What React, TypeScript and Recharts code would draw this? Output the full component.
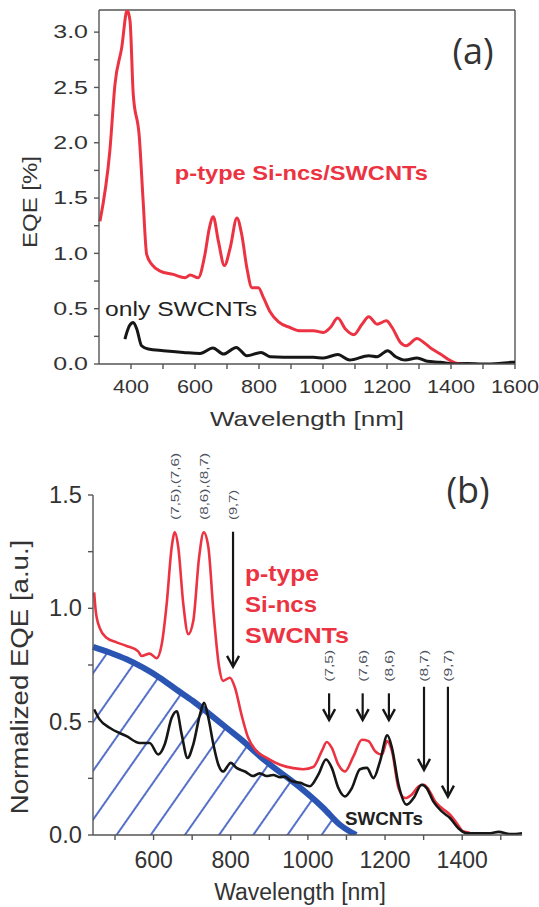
import { Area, ComposedChart, Line, LineChart, ReferenceDot, ReferenceLine, XAxis, YAxis } from "recharts";

const RED = "#ec3342";
const BLACK = "#161616";
const BLUE = "#2b55b3";
const AXIS = "#555555";
const TEXT = "#333333";
const FONT = '"Liberation Sans", Arial, sans-serif';

// panel (a): absolute EQE
const aRedNm = [303, 334, 350, 371, 388, 397, 407, 426, 438, 449, 465, 491, 532, 569, 585, 610, 631, 645, 657, 673, 692, 710, 731, 746, 762, 778, 798, 814, 835, 861, 897, 929, 970, 1002, 1023, 1046, 1070, 1096, 1122, 1143, 1169, 1198, 1216, 1242, 1260, 1294, 1315, 1341, 1367, 1398, 1420, 1445];
const aRedEqe = [1.29, 1.93, 2.53, 2.86, 3.2, 3.1, 2.44, 2.05, 1.47, 0.99, 0.9, 0.84, 0.81, 0.78, 0.805, 0.78, 0.99, 1.23, 1.33, 1.11, 0.89, 1.05, 1.32, 1.17, 0.87, 0.69, 0.69, 0.6, 0.47, 0.38, 0.33, 0.3, 0.3, 0.285, 0.33, 0.415, 0.316, 0.265, 0.36, 0.427, 0.36, 0.39, 0.33, 0.195, 0.165, 0.23, 0.195, 0.135, 0.09, 0.03, 0.005, 0];
const aBlackNm = [381, 395, 407, 418, 433, 454, 501, 564, 616, 656, 689, 729, 762, 806, 835, 918, 970, 1002, 1046, 1083, 1143, 1169, 1202, 1227, 1257, 1294, 1326, 1367, 1409, 1450, 1500, 1550, 1590, 1600];
const aBlackEqe = [0.225, 0.345, 0.375, 0.316, 0.165, 0.135, 0.12, 0.105, 0.096, 0.145, 0.09, 0.15, 0.075, 0.105, 0.066, 0.06, 0.06, 0.055, 0.085, 0.036, 0.075, 0.066, 0.12, 0.066, 0.036, 0.055, 0.024, 0.015, 0, 0.005, 0, 0.005, 0.015, 0.015];
const aXMajor = [400, 600, 800, 1000, 1200, 1400, 1600];
const aXMinor = [500, 700, 900, 1100, 1300, 1500];
const aYMajor = [0, 0.5, 1, 1.5, 2, 2.5, 3];
const aYMinor = [0.25, 0.75, 1.25, 1.75, 2.25, 2.75];

// panel (b): normalized EQE
const bRedNm = [446, 450, 460, 478, 504, 530, 560, 569, 590, 608, 621, 634, 647, 655, 664, 677, 690, 703, 718, 730, 742, 755, 770, 780, 798, 811, 828, 845, 867, 893, 928, 962, 988, 1014, 1036, 1049, 1062, 1079, 1096, 1118, 1140, 1157, 1174, 1192, 1205, 1218, 1235, 1252, 1269, 1287, 1300, 1313, 1330, 1347, 1369, 1386, 1403, 1420];
const bRedEqe = [1.07, 0.99, 0.915, 0.87, 0.85, 0.834, 0.81, 0.79, 0.8, 0.78, 0.84, 1.02, 1.27, 1.335, 1.27, 1.02, 0.886, 0.945, 1.225, 1.335, 1.27, 0.99, 0.74, 0.68, 0.694, 0.65, 0.53, 0.43, 0.37, 0.34, 0.31, 0.295, 0.29, 0.3, 0.37, 0.41, 0.384, 0.31, 0.28, 0.347, 0.42, 0.414, 0.37, 0.355, 0.414, 0.37, 0.207, 0.163, 0.178, 0.215, 0.222, 0.2, 0.148, 0.119, 0.089, 0.052, 0.015, 0.01];
const bBlackNm = [446, 460, 486, 530, 564, 590, 612, 629, 647, 660, 673, 688, 703, 720, 731, 742, 755, 768, 780, 800, 815, 837, 858, 875, 893, 910, 928, 940, 955, 980, 1005, 1027, 1047, 1062, 1079, 1096, 1114, 1135, 1153, 1170, 1187, 1206, 1218, 1235, 1256, 1274, 1295, 1308, 1325, 1347, 1369, 1390, 1412, 1438, 1473, 1494, 1525, 1555];
const bBlackEqe = [0.554, 0.51, 0.473, 0.436, 0.406, 0.406, 0.355, 0.4, 0.517, 0.546, 0.443, 0.34, 0.4, 0.53, 0.583, 0.517, 0.4, 0.31, 0.28, 0.318, 0.296, 0.28, 0.26, 0.272, 0.26, 0.265, 0.255, 0.258, 0.24, 0.23, 0.215, 0.266, 0.333, 0.296, 0.207, 0.17, 0.207, 0.29, 0.296, 0.251, 0.325, 0.44, 0.384, 0.222, 0.134, 0.163, 0.222, 0.207, 0.148, 0.104, 0.074, 0.03, 0.008, 0.008, 0.008, 0.014, 0.004, 0.008];
const bEnvNm = [443, 486, 530, 573, 616, 659, 703, 746, 789, 832, 876, 919, 954, 1040, 1083, 1125];
const bEnvEqe = [0.83, 0.805, 0.775, 0.738, 0.694, 0.642, 0.59, 0.532, 0.473, 0.414, 0.347, 0.288, 0.244, 0.119, 0.045, 0];
const bXMajor = [600, 800, 1000, 1200, 1400];
const bXMinor = [500, 700, 900, 1100, 1300, 1500];
const bYMajor = [0, 0.5, 1, 1.5];
const bYMinor = [0.25, 0.75, 1.25];

// chirality assignments
const bandLabels = ["(7,5),(7,6)", "(8,6),(8,7)", "(9,7)"];
const bandNm = [655, 730, 806];
const peakLabels = ["(7,5)", "(7,6)", "(8,6)", "(8,7)", "(9,7)"];
const peakNm = [1055, 1142, 1210, 1301, 1363];
const peakArrowFrom = [0.625, 0.625, 0.625, 0.654, 0.654];
const peakArrowTo = [0.507, 0.507, 0.507, 0.287, 0.169];

const rows = (nm: number[], v: number[]) => nm.map((x, i) => ({ nm: x, eqe: v[i] }));

function makeXTick(major: number[], fontSize: number, sx: number, dy: number) {
    return (props: any) => {
        const { x, y, payload } = props;
        const isMajor = major.includes(payload.value);
        return (
            <g>
                <line x1={x} y1={y} x2={x} y2={y + 5} stroke={AXIS} strokeWidth={1.4} />
                {isMajor && (
                    <text
                        transform={`translate(${x},${y + dy}) scale(${sx},1)`}
                        textAnchor="middle"
                        dominantBaseline="central"
                        fontSize={fontSize}
                        fontFamily={FONT}
                        fill={TEXT}
                    >
                        {payload.value}
                    </text>
                )}
            </g>
        );
    };
}

function makeYTick(major: number[], fontSize: number, sx: number, dx: number) {
    return (props: any) => {
        const { x, y, payload } = props;
        const isMajor = major.includes(payload.value);
        return (
            <g>
                <line x1={x} y1={y} x2={x - 5} y2={y} stroke={AXIS} strokeWidth={1.4} />
                {isMajor && (
                    <text
                        transform={`translate(${x + dx},${y}) scale(${sx},1)`}
                        textAnchor="end"
                        dominantBaseline="central"
                        fontSize={fontSize}
                        fontFamily={FONT}
                        fill={TEXT}
                    >
                        {payload.value.toFixed(1)}
                    </text>
                )}
            </g>
        );
    };
}

const note = (text: string, o: { size: number; color: string; weight?: number; len?: number; rotate?: boolean }) =>
    (p: any) => (
        <text
            x={p.cx}
            y={p.cy}
            transform={o.rotate ? `rotate(-90 ${p.cx} ${p.cy})` : undefined}
            dominantBaseline={o.rotate ? "central" : "auto"}
            fontSize={o.size}
            fontWeight={o.weight ?? 400}
            fontFamily={FONT}
            fill={o.color}
            textLength={o.len}
            lengthAdjust="spacingAndGlyphs"
        >
            {text}
        </text>
    );

const arrowHead = (p: any) => (
    <path
        d={`M${p.cx - 6},${p.cy - 11} L${p.cx},${p.cy} L${p.cx + 6},${p.cy - 11}`}
        fill="none"
        stroke={BLACK}
        strokeWidth={2.4}
    />
);

function PanelA() {
    return (
        <LineChart width={539} height={440} margin={{ top: 10, right: 24, bottom: 36, left: 0 }}>
            <XAxis
                dataKey="nm"
                type="number"
                domain={[300, 1600]}
                ticks={[...aXMajor, ...aXMinor].sort((a, b) => a - b)}
                interval={0}
                height={40}
                tickLine={false}
                tickSize={0}
                tickMargin={0}
                stroke={AXIS}
                strokeWidth={1.4}
                tick={makeXTick(aXMajor, 18, 1.2, 23)}
            />
            <YAxis
                type="number"
                domain={[0, 3.2]}
                allowDataOverflow
                ticks={[...aYMajor, ...aYMinor].sort((a, b) => a - b)}
                interval={0}
                width={99}
                tickLine={false}
                tickSize={0}
                tickMargin={0}
                stroke={AXIS}
                strokeWidth={1.4}
                tick={makeYTick(aYMajor, 18.5, 1.35, -11)}
            />
            <ReferenceLine x={1600} stroke={AXIS} strokeWidth={1.4} />
            <ReferenceLine y={3.2} stroke={AXIS} strokeWidth={1.4} />
            <Line data={rows(aRedNm, aRedEqe)} dataKey="eqe" type="monotone" stroke={RED} strokeWidth={3} dot={false} isAnimationActive={false} />
            <Line data={rows(aBlackNm, aBlackEqe)} dataKey="eqe" type="monotone" stroke={BLACK} strokeWidth={3} dot={false} isAnimationActive={false} />
            <ReferenceDot x={537} y={1.663} r={0} ifOverflow="visible" shape={note("p-type Si-ncs/SWCNTs", { size: 21, weight: 700, color: RED, len: 253 })} />
            <ReferenceDot x={319} y={0.43} r={0} ifOverflow="visible" shape={note("only SWCNTs", { size: 20, color: "#222", len: 152 })} />
        </LineChart>
    );
}

function PanelB() {
    return (
        <ComposedChart width={539} height={467} data={rows(bEnvNm, bEnvEqe)} margin={{ top: 55, right: 17, bottom: 32, left: 0 }}>
            <defs>
                <pattern id="hatch" patternUnits="userSpaceOnUse" width={28} height={28} patternTransform="rotate(35)">
                    <line x1={14} y1={0} x2={14} y2={28} stroke="#2a4cbc" strokeWidth={1.6} />
                </pattern>
            </defs>
            <XAxis
                dataKey="nm"
                type="number"
                domain={[443, 1555]}
                ticks={[...bXMajor, ...bXMinor].sort((a, b) => a - b)}
                interval={0}
                height={40}
                tickLine={false}
                tickSize={0}
                tickMargin={0}
                stroke={AXIS}
                strokeWidth={1.4}
                tick={makeXTick(bXMajor, 23, 1.0, 25)}
            />
            <YAxis
                type="number"
                domain={[0, 1.5]}
                allowDataOverflow
                ticks={[...bYMajor, ...bYMinor].sort((a, b) => a - b)}
                interval={0}
                width={93}
                tickLine={false}
                tickSize={0}
                tickMargin={0}
                stroke={AXIS}
                strokeWidth={1.4}
                tick={makeYTick(bYMajor, 23, 1.03, -11)}
            />
            <Line data={rows(bRedNm, bRedEqe)} dataKey="eqe" type="monotone" stroke={RED} strokeWidth={2.6} dot={false} isAnimationActive={false} />
            <Line data={rows(bBlackNm, bBlackEqe)} dataKey="eqe" type="monotone" stroke={BLACK} strokeWidth={2.6} dot={false} isAnimationActive={false} />
            <Area dataKey="eqe" type="monotone" stroke={BLUE} strokeWidth={6} fill="url(#hatch)" fillOpacity={1} isAnimationActive={false} />

            {bandLabels.map((t, i) => (
                <ReferenceDot key={t} x={bandNm[i]} y={1.39} r={0} ifOverflow="visible"
                    shape={note(t, { size: 11, color: "#4d5360", rotate: true, len: i === 2 ? 30 : 67 })} />
            ))}
            <ReferenceLine segment={[{ x: 806, y: 1.338 }, { x: 806, y: 0.745 }]} stroke={BLACK} strokeWidth={2.2} ifOverflow="visible" />
            <ReferenceDot x={806} y={0.742} r={0} ifOverflow="visible" shape={arrowHead} />

            {peakLabels.map((t, i) => (
                <ReferenceDot key={t + i} x={peakNm[i]} y={0.676} r={0} ifOverflow="visible"
                    shape={note(t, { size: 11, color: "#4d5360", rotate: true, len: 32 })} />
            ))}
            {peakNm.map((x, i) => (
                <ReferenceLine key={"s" + i} segment={[{ x, y: peakArrowFrom[i] }, { x, y: peakArrowTo[i] }]} stroke={BLACK} strokeWidth={2.2} ifOverflow="visible" />
            ))}
            {peakNm.map((x, i) => (
                <ReferenceDot key={"h" + i} x={x} y={peakArrowTo[i]} r={0} ifOverflow="visible" shape={arrowHead} />
            ))}

            <ReferenceDot x={837} y={1.12} r={0} ifOverflow="visible" shape={note("p-type", { size: 22, weight: 700, color: RED, len: 74 })} />
            <ReferenceDot x={837} y={0.984} r={0} ifOverflow="visible" shape={note("Si-ncs", { size: 22, weight: 700, color: RED, len: 72 })} />
            <ReferenceDot x={837} y={0.847} r={0} ifOverflow="visible" shape={note("SWCNTs", { size: 22, weight: 700, color: RED, len: 104 })} />
            <ReferenceDot x={1096} y={0.044} r={0} ifOverflow="visible" shape={note("SWCNTs", { size: 18, weight: 700, color: "#222", len: 78 })} />
        </ComposedChart>
    );
}

export default function App() {
    const title = { fontFamily: FONT, fill: TEXT, textAnchor: "middle" as const, dominantBaseline: "central" as const };
    return (
        <div style={{ position: "absolute", left: 0, top: 0, width: 539, height: 907, background: "#fff" }}>
            <div style={{ position: "absolute", left: 0, top: 0 }}>
                <PanelA />
            </div>
            <div style={{ position: "absolute", left: 0, top: 440 }}>
                <PanelB />
            </div>
            <svg width={539} height={907} style={{ position: "absolute", left: 0, top: 0, pointerEvents: "none" }}>
                <text {...title} fontSize={20} transform="translate(307 419) scale(1.3 1)">Wavelength [nm]</text>
                <text {...title} fontSize={20} transform="translate(30 202) rotate(-90) scale(1.2 1)">EQE [%]</text>
                <text {...title} fontSize={23} transform="translate(300 892)">Wavelength [nm]</text>
                <text {...title} fontSize={24} transform="translate(20 677) rotate(-90) scale(1.15 1)">Normalized EQE [a.u.]</text>
                <text {...title} fontSize={36} fontFamily='"Open Sans", sans-serif' transform="translate(473 50)">(a)</text>
                <text {...title} fontSize={36} fontFamily='"Open Sans", sans-serif' transform="translate(468 489)">(b)</text>
            </svg>
        </div>
    );
}
